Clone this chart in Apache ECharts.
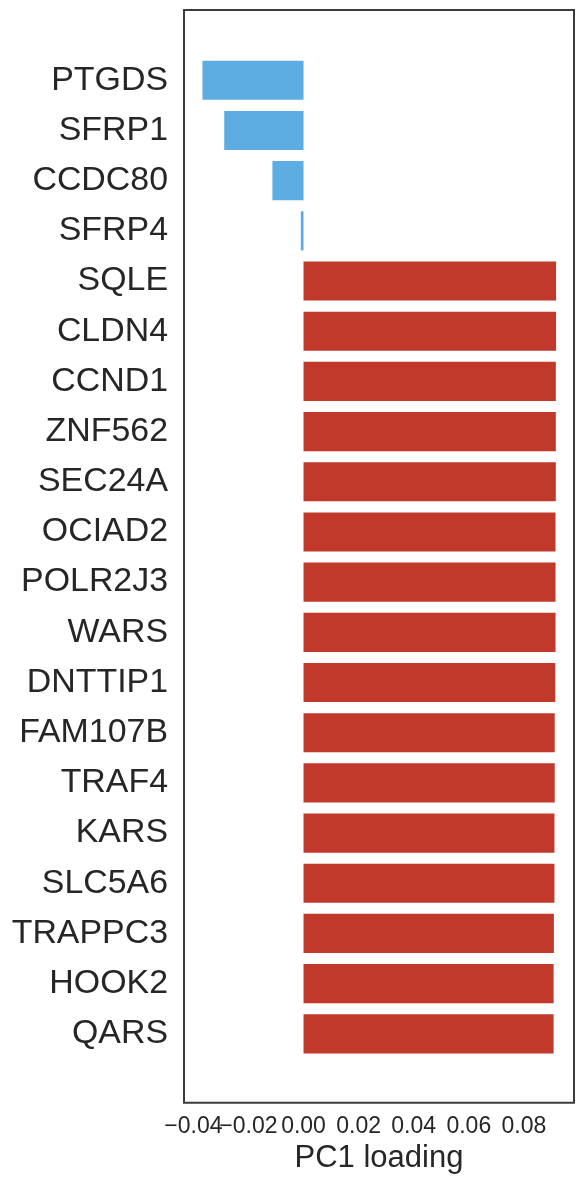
<!DOCTYPE html>
<html>
<head>
<meta charset="utf-8">
<script src="https://cdn.jsdelivr.net/npm/echarts@6/dist/echarts.min.js"></script>
<style>
html,body{margin:0;padding:0;background:#fff;}
#chart{width:584px;height:1184px;}
</style>
</head>
<body>
<div id="chart"></div>
<script>
const genes = ["PTGDS","SFRP1","CCDC80","SFRP4","SQLE","CLDN4","CCND1","ZNF562","SEC24A","OCIAD2","POLR2J3","WARS","DNTTIP1","FAM107B","TRAF4","KARS","SLC5A6","TRAPPC3","HOOK2","QARS"];
const loadings = [-0.0367,-0.0288,-0.0113,-0.0010,0.0917,0.0917,0.0916,0.0916,0.0916,0.0915,0.0915,0.0915,0.0914,0.0912,0.0912,0.0911,0.0911,0.0909,0.0908,0.0908];
const xTicksA = [-0.04,0.00,0.04,0.08];
const xTicksB = [-0.02,0.02,0.06];
const axisTitle = "PC1 loading";
const X_MIN = -0.0434, X_MAX = 0.0982;

const FONT = '"Liberation Sans", Arial, sans-serif';
const fmt = v=>(v<0?'\u2212':'')+Math.abs(v).toFixed(2);
const labelStyle = {fontSize:23, fontFamily:FONT, color:'#262626', margin:12, hideOverlap:false, formatter:fmt};
const chart = echarts.init(document.getElementById('chart'), null, {renderer:'canvas'});
chart.setOption({
  animation:false,
  backgroundColor:'#ffffff',
  grid:[
    {left:184, right:10, top:55.2, bottom:125.1, show:false},
    {left:184, right:10, top:10, bottom:81.3, show:true, borderColor:'#3c3c3c', borderWidth:2, backgroundColor:'transparent', z:5}
  ],
  xAxis:[
    {type:'value', gridIndex:0, min:X_MIN, max:X_MAX, position:'bottom', offset:43.8,
     axisLine:{show:false}, axisTick:{show:false}, splitLine:{show:false},
     axisLabel:Object.assign({customValues:xTicksB}, labelStyle)},
    {type:'value', gridIndex:1, min:X_MIN, max:X_MAX, position:'bottom',
     axisLine:{show:false}, axisTick:{show:false}, splitLine:{show:false},
     axisLabel:Object.assign({customValues:xTicksA}, labelStyle),
     name:axisTitle, nameLocation:'middle', nameGap:37,
     nameTextStyle:{fontSize:31, fontFamily:FONT, color:'#262626'}}
  ],
  yAxis:[
    {type:'category', gridIndex:0, data:genes, inverse:true,
     axisLine:{show:false}, axisTick:{show:false}, splitLine:{show:false},
     axisLabel:{fontSize:33.9, fontFamily:FONT, color:'#262626', margin:16}},
    {type:'value', gridIndex:1, show:false}
  ],
  series:[{
    type:'bar', xAxisIndex:0, yAxisIndex:0, barWidth:'78%',
    data:loadings.map(v=>({value:v, itemStyle:{color: v<0 ? '#5dade2' : '#c0392b'}}))
  }]
});
</script>
</body>
</html>
